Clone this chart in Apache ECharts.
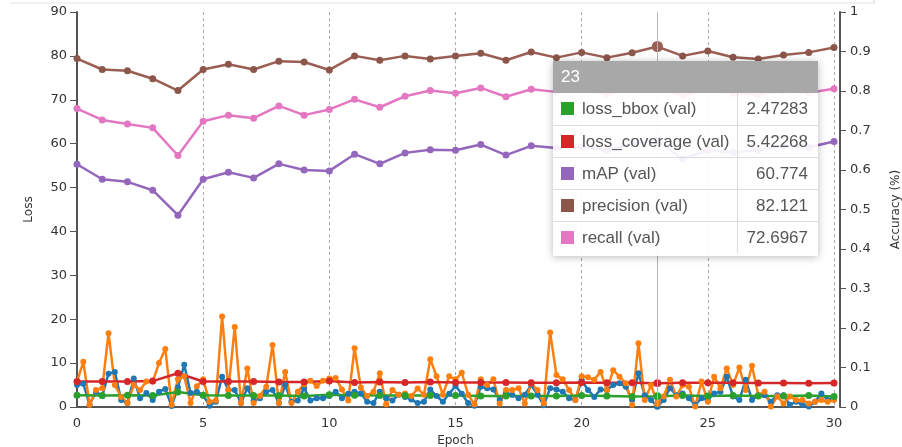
<!DOCTYPE html>
<html>
<head>
<meta charset="utf-8">
<script src="https://cdn.jsdelivr.net/npm/echarts@6/dist/echarts.min.js"></script>
<style>
  html, body { margin: 0; padding: 0; background: #fff; }
  #chart { width: 902px; height: 447px; }
</style>
</head>
<body>
<div id="chart"></div>
<script>
// Validation passes: one per epoch, 0..30
const valEpochs = [0,1,2,3,4,5,6,7,8,9,10,11,12,13,14,15,16,17,18,19,20,21,22,23,24,25,26,27,28,29,30];

const lossBboxVal = [2.7,2.6,2.7,2.6,3.4,2.7,2.6,2.6,2.6,2.5,2.8,2.7,2.6,2.6,2.6,2.6,2.5,2.5,2.5,2.5,2.6,2.5,2.4,2.47283,2.6,2.5,2.6,2.5,2.5,2.6,2.4];
const lossCoverageVal = [5.8,5.8,5.8,5.9,7.7,5.8,5.8,5.8,5.7,5.7,5.9,5.6,5.7,5.6,5.7,5.6,5.6,5.6,5.5,5.5,5.6,5.5,5.5,5.42268,5.5,5.5,5.5,5.45,5.45,5.4,5.45];
const mapVal = [55.3,51.9,51.3,49.4,43.7,51.9,53.5,52.2,55.4,54.0,53.8,57.6,55.4,57.9,58.6,58.5,59.8,57.4,59.5,59.0,59.3,58.5,60.0,60.774,56.5,58.5,58.0,58.5,59.5,59.2,60.5];
const precisionVal = [79.4,76.9,76.6,74.8,72.1,76.9,78.1,76.9,78.8,78.6,76.8,80.0,79.0,80.0,79.3,80.0,80.6,79.0,80.9,79.6,80.8,79.6,80.7,82.121,80.0,81.1,79.7,79.3,80.2,80.8,81.9];
const recallVal = [68.0,65.4,64.5,63.6,57.3,65.1,66.5,65.8,68.6,66.5,67.8,70.1,68.3,70.8,72.1,71.5,72.7,70.7,72.4,71.8,72.3,71.3,72.5,72.6967,71.0,72.2,71.5,71.2,72.0,71.6,72.5];

// Training samples: four per epoch
const trainEpochs = [
  0,0.25,0.5,0.75,1,1.25,1.5,1.75,2,2.25,2.5,2.75,3,3.25,3.5,3.75,4,4.25,4.5,4.75,
  5,5.25,5.5,5.75,6,6.25,6.5,6.75,7,7.25,7.5,7.75,8,8.25,8.5,8.75,9,9.25,9.5,9.75,
  10,10.25,10.5,10.75,11,11.25,11.5,11.75,12,12.25,12.5,12.75,13,13.25,13.5,13.75,14,14.25,14.5,14.75,
  15,15.25,15.5,15.75,16,16.25,16.5,16.75,17,17.25,17.5,17.75,18,18.25,18.5,18.75,19,19.25,19.5,19.75,
  20,20.25,20.5,20.75,21,21.25,21.5,21.75,22,22.25,22.5,22.75,23,23.25,23.5,23.75,24,24.25,24.5,24.75,
  25,25.25,25.5,25.75,26,26.25,26.5,26.75,27,27.25,27.5,27.75,28,28.25,28.5,28.75,29,29.25,29.5,29.75,30
];
const lossBboxTrain = [
  5.0,5.3,0.5,3.5,2.5,7.6,8.0,1.6,0.9,6.5,2.0,3.2,1.6,3.5,4.1,0.2,4.5,9.6,3.2,3.5,
  2.7,0.3,1.2,6.9,3.9,3.9,0.9,4.3,1.5,2.0,3.5,3.9,0.9,5.0,1.2,1.5,4.3,1.5,2.0,2.0,
  2.5,3.5,2.0,3.0,3.5,3.1,1.2,0.9,3.5,2.0,1.5,2.8,2.3,1.7,0.9,1.2,4.0,2.5,1.2,3.0,
  4.8,3.0,0.9,0.3,4.6,4.3,4.0,1.6,3.2,2.8,2.0,2.8,5.0,2.8,0.4,4.3,4.0,3.5,2.0,1.6,
  6.1,3.9,2.3,4.0,3.9,5.0,5.4,4.6,1.6,7.7,2.7,1.6,0.1,1.6,4.3,2.7,3.1,2.0,0.5,2.0,
  1.6,3.1,3.5,6.9,2.4,1.6,6.2,1.6,2.7,2.7,1.2,2.7,2.7,0.5,1.2,0.5,0.1,1.2,3.1,1.6,2.0
];
const lossCoverageTrain = [
  5.8,10.3,0.5,3.9,4.3,16.8,5.0,2.3,0.9,5.0,3.9,5.8,5.8,10.0,13.2,0.5,6.3,7.0,0.9,4.7,
  6.3,1.2,1.5,20.6,3.9,18.2,0.9,8.8,0.9,2.5,4.6,14.1,0.9,8.0,0.9,3.5,5.2,6.0,4.8,6.0,
  6.5,6.6,4.0,1.5,13.4,4.4,2.5,3.5,7.7,0.6,3.9,2.8,3.1,2.5,4.2,2.8,10.9,7.0,2.8,7.0,
  6.3,7.8,2.8,0.6,6.3,5.0,6.3,0.8,3.9,3.9,4.3,0.8,5.3,3.9,0.8,17.0,7.3,6.3,3.9,1.6,
  7.0,6.8,6.2,8.0,3.9,8.4,6.9,5.4,0.5,14.5,1.6,5.0,0.8,2.4,6.2,2.4,5.0,4.6,0.1,5.8,
  1.2,6.9,4.3,8.8,5.0,9.0,3.9,9.4,2.7,3.5,0.1,2.4,0.8,2.4,1.6,1.6,0.8,1.2,1.6,1.2,1.6
];

const leftTicks = { min: 0, max: 90, interval: 10 };
const rightTicks = { min: 0, max: 1, interval: 0.1 };
const epochTicks = { min: 0, max: 30, interval: 5 };
const hoverIndex = 23;

function pairs(xs, ys) { return xs.map((x, i) => [x, ys[i]]); }

const palette = {
  bboxTrain: '#1f77b4', covTrain: '#ff7f0e', bboxVal: '#2ca02c', covVal: '#d62728',
  map: '#9467bd', precision: '#8c564b', recall: '#e377c2'
};

const valNames = ['loss_bbox (val)', 'loss_coverage (val)', 'mAP (val)', 'precision (val)', 'recall (val)'];

function lineSeries(name, color, data, size, width, hoverScale) {
  return {
    name: name, type: 'line', data: data, yAxisIndex: 0,
    symbol: 'circle', symbolSize: size, showSymbol: true,
    itemStyle: { color: color },
    lineStyle: { color: color, width: width },
    emphasis: hoverScale ? { scale: hoverScale, lineStyle: { width: width } } : { disabled: true },
    animation: false
  };
}

const axisFont = { fontFamily: 'DejaVu Sans', fontSize: 13, color: '#333' };
const axisLine = { show: true, lineStyle: { color: '#555', width: 2 } };

const chart = echarts.init(document.getElementById('chart'), null, { renderer: 'canvas' });
chart.setOption({
  animation: false,
  backgroundColor: '#fff',
  grid: { left: 77, right: 68, top: 12, bottom: 40, containLabel: false, outerBoundsMode: 'none' },
  graphic: [
    { type: 'line', shape: { x1: 10, y1: 3, x2: 874, y2: 3 }, style: { stroke: '#e4e4e4', lineWidth: 1 } },
    { type: 'line', shape: { x1: 874, y1: 0, x2: 874, y2: 4 }, style: { stroke: '#d8d8d8', lineWidth: 1 } }
  ],
  xAxis: {
    type: 'value', min: epochTicks.min, max: epochTicks.max, interval: epochTicks.interval,
    name: 'Epoch', nameLocation: 'middle', nameGap: 28,
    nameTextStyle: { fontFamily: 'DejaVu Sans', fontSize: 12, color: '#333' },
    axisLine: axisLine,
    axisTick: { show: false },
    axisLabel: Object.assign({ margin: 10 }, axisFont),
    splitLine: { show: true, lineStyle: { color: '#aaa', type: [3, 3], width: 1 } }
  },
  yAxis: [
    {
      type: 'value', position: 'left', min: leftTicks.min, max: leftTicks.max, interval: leftTicks.interval,
      name: 'Loss', nameLocation: 'middle', nameGap: 42, nameRotate: 90,
      nameTextStyle: { fontFamily: 'DejaVu Sans', fontSize: 12, color: '#333' },
      axisLine: axisLine,
      axisTick: { show: true, length: 7, lineStyle: { color: '#555', width: 1 } },
      axisLabel: Object.assign({ margin: 10 }, axisFont),
      splitLine: { show: false }
    },
    {
      type: 'value', position: 'right', offset: 6, min: rightTicks.min, max: rightTicks.max, interval: rightTicks.interval,
      name: 'Accuracy (%)', nameLocation: 'middle', nameGap: 50, nameRotate: 90,
      nameTextStyle: { fontFamily: 'DejaVu Sans', fontSize: 12, color: '#333' },
      axisLine: axisLine,
      axisTick: { show: true, length: 6, lineStyle: { color: '#555', width: 1 } },
      axisLabel: Object.assign({ margin: 10 }, axisFont),
      splitLine: { show: false }
    }
  ],
  tooltip: {
    trigger: 'axis',
    alwaysShowContent: true,
    showDelay: 0,
    transitionDuration: 0,
    padding: 0,
    borderWidth: 0,
    borderRadius: 0,
    backgroundColor: 'rgba(255,255,255,0.9)',
    extraCssText: 'box-shadow:0 1px 8px rgba(0,0,0,0.28);border-radius:0;overflow:hidden;',
    position: function () { return [553, 61]; },
    axisPointer: { type: 'line', lineStyle: { color: '#b5b5b5', width: 1, type: 'solid' }, label: { show: false } },
    formatter: function (params) {
      const rows = params.filter(p => valNames.indexOf(p.seriesName) >= 0);
      let html = '<div style="width:265px;font-family:\'Liberation Sans\',Arial,sans-serif;">';
      html += '<div style="background:#a8a8a8;color:#fff;font-size:17px;height:32px;line-height:32px;padding-left:8px;">' + params[0].axisValue + '</div>';
      html += '<table style="border-collapse:collapse;width:265px;font-size:17px;color:#555;">';
      rows.forEach(function (p, i) {
        html += '<tr style="height:32px;' + (i ? 'border-top:1px solid #dcdcdc;' : '') + '">' +
          '<td style="width:176px;padding:0 0 0 8px;white-space:nowrap;">' +
          '<span style="display:inline-block;width:13px;height:13px;background:' + p.color + ';margin-right:8px;vertical-align:-1px;"></span>' +
          p.seriesName + '</td>' +
          '<td style="border-left:1px solid #dcdcdc;text-align:right;padding:0 10px 0 0;white-space:nowrap;">' + p.value[1] + '</td></tr>';
      });
      html += '</table><div style="height:3px;"></div></div>';
      return html;
    }
  },
  series: [
    lineSeries('loss_bbox (train)', palette.bboxTrain, pairs(trainEpochs, lossBboxTrain), 6, 2.5),
    lineSeries('loss_coverage (train)', palette.covTrain, pairs(trainEpochs, lossCoverageTrain), 6, 2.5),
    lineSeries('loss_bbox (val)', palette.bboxVal, pairs(valEpochs, lossBboxVal), 7, 2.5),
    lineSeries('loss_coverage (val)', palette.covVal, pairs(valEpochs, lossCoverageVal), 7, 2.5),
    lineSeries('mAP (val)', palette.map, pairs(valEpochs, mapVal), 7, 2.5),
    lineSeries('precision (val)', palette.precision, pairs(valEpochs, precisionVal), 7, 2.5, 1.6),
    lineSeries('recall (val)', palette.recall, pairs(valEpochs, recallVal), 7, 2.5)
  ]
});

chart.dispatchAction({ type: 'showTip', seriesIndex: 5, dataIndex: hoverIndex });
</script>
</body>
</html>
